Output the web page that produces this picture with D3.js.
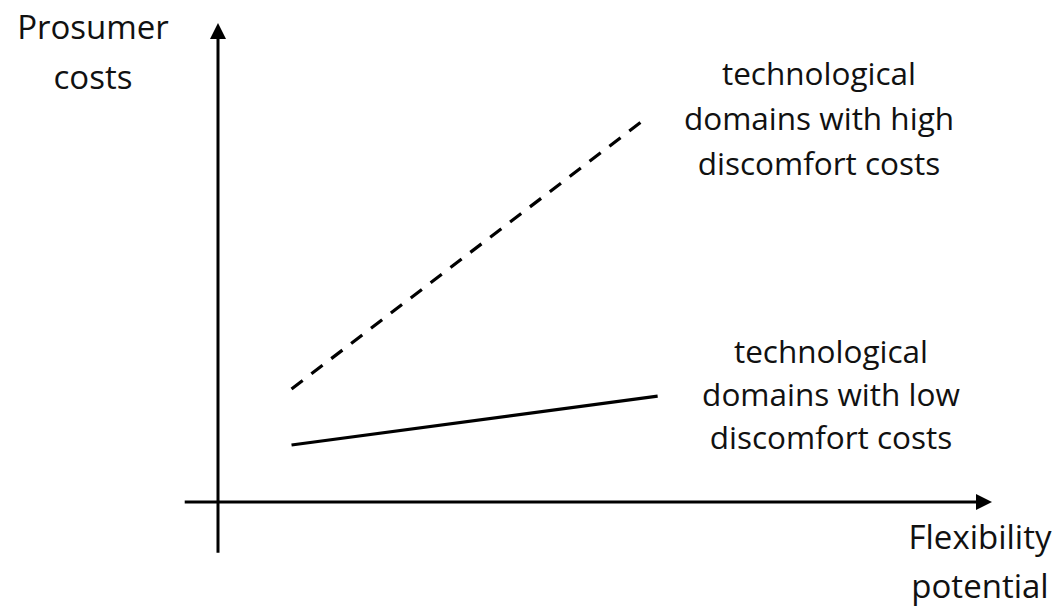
<!DOCTYPE html>
<html><head><meta charset="utf-8">
<script src="https://cdn.jsdelivr.net/npm/d3@7"></script>
<style>html,body{margin:0;padding:0;background:#fff;}</style>
</head><body>
<svg id="c" width="1063" height="609"></svg>
<script>
// Data (abstract units)
const seriesNames = ["high", "low"];
const highX = [0.95, 5.52];
const highY = [2.36, 8.0];
const lowX = [0.95, 5.68];
const lowY = [1.19, 2.21];
const highLabel = ["technological", "domains with high", "discomfort costs"];
const lowLabel = ["technological", "domains with low", "discomfort costs"];
const yAxisLabel = ["Prosumer", "costs"];
const xAxisLabel = ["Flexibility", "potential"];

const svg = d3.select("#c");
const font = "'Open Sans', 'DejaVu Sans', sans-serif";
const x = d3.scaleLinear().domain([0, 10]).range([218, 992]);
const y = d3.scaleLinear().domain([0, 10]).range([502, 23]);

// axes
const ah = 16; // arrow head length
svg.append("line").attr("x1", x(-0.43)).attr("x2", x(10) - ah).attr("y1", y(0)).attr("y2", y(0))
  .attr("stroke", "#000").attr("stroke-width", 3);
svg.append("path").attr("d", d3.line()([[x(10), y(0)], [x(10) - ah, y(0) - 8], [x(10) - ah, y(0) + 8]]) + "Z").attr("fill", "#000");
svg.append("line").attr("x1", x(0)).attr("x2", x(0)).attr("y1", y(-1.06)).attr("y2", y(10) + ah)
  .attr("stroke", "#000").attr("stroke-width", 3);
svg.append("path").attr("d", d3.line()([[x(0), y(10)], [x(0) - 8, y(10) + ah], [x(0) + 8, y(10) + ah]]) + "Z").attr("fill", "#000");

const line = d3.line().x(d => x(d[0])).y(d => y(d[1]));
svg.append("path").datum(d3.zip(highX, highY)).attr("d", line)
  .attr("stroke", "#000").attr("stroke-width", 3.2).attr("fill", "none").attr("stroke-dasharray", "14,11");
svg.append("path").datum(d3.zip(lowX, lowY)).attr("d", line)
  .attr("stroke", "#000").attr("stroke-width", 3.2).attr("fill", "none");

function label(lines, cx, y0, dy, size) {
  const t = svg.append("text").attr("font-family", font).attr("font-size", size).attr("fill", "#111")
    .attr("text-anchor", "middle");
  lines.forEach((s, i) => t.append("tspan").attr("x", cx).attr("y", y0 + i * dy).text(s));
}
label(yAxisLabel, 93, 39, 50, 33);
label(highLabel, 819, 85, 45, 31.5);
label(lowLabel, 831, 363, 43, 31.5);
label(xAxisLabel, 980, 549, 49, 33);
</script>
</body></html>
